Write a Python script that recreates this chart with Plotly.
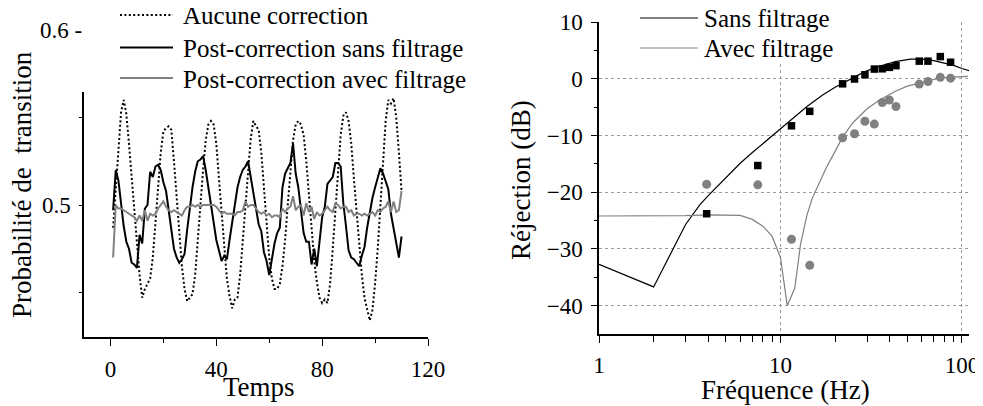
import plotly.graph_objects as go

# --- left panel: transition probability vs time ---
temps = list(range(1, 111))

aucune = [0.487, 0.510, 0.535, 0.553, 0.560, 0.552, 0.535, 0.515, 0.495, 0.475,
          0.460, 0.447, 0.452, 0.455, 0.458, 0.470, 0.490, 0.510, 0.530, 0.542,
          0.544, 0.545, 0.543, 0.525, 0.505, 0.485, 0.465, 0.452, 0.445, 0.447,
          0.449, 0.460, 0.478, 0.500, 0.520, 0.537, 0.546, 0.548, 0.546, 0.535,
          0.515, 0.495, 0.475, 0.458, 0.448, 0.441, 0.446, 0.447, 0.460, 0.480,
          0.500, 0.520, 0.538, 0.548, 0.545, 0.543, 0.530, 0.510, 0.490, 0.470,
          0.458, 0.452, 0.452, 0.455, 0.465, 0.480, 0.500, 0.520, 0.537, 0.546,
          0.548, 0.546, 0.540, 0.525, 0.505, 0.485, 0.468, 0.456, 0.447, 0.444,
          0.446, 0.444, 0.455, 0.475, 0.497, 0.520, 0.540, 0.551, 0.553, 0.548,
          0.535, 0.515, 0.495, 0.475, 0.460, 0.447, 0.440, 0.434, 0.440, 0.455,
          0.475, 0.500, 0.525, 0.548, 0.560, 0.558, 0.561, 0.550, 0.530, 0.508]

sans_filtrage = [0.497, 0.520, 0.514, 0.500, 0.488, 0.479, 0.475, 0.467, 0.466, 0.464,
                 0.483, 0.478, 0.498, 0.500, 0.519, 0.516, 0.522, 0.523, 0.520, 0.513,
                 0.508, 0.497, 0.487, 0.475, 0.470, 0.467, 0.469, 0.472, 0.486, 0.500,
                 0.510, 0.519, 0.525, 0.526, 0.528, 0.520, 0.510, 0.500, 0.488, 0.480,
                 0.474, 0.468, 0.471, 0.469, 0.480, 0.489, 0.500, 0.510, 0.516, 0.520,
                 0.522, 0.525, 0.516, 0.508, 0.500, 0.489, 0.485, 0.473, 0.468, 0.460,
                 0.469, 0.478, 0.484, 0.487, 0.510, 0.518, 0.521, 0.524, 0.535, 0.518,
                 0.510, 0.497, 0.484, 0.479, 0.479, 0.466, 0.475, 0.465, 0.481, 0.493,
                 0.499, 0.512, 0.514, 0.516, 0.524, 0.524, 0.522, 0.501, 0.488, 0.474,
                 0.470, 0.469, 0.467, 0.465, 0.471, 0.476, 0.487, 0.496, 0.504, 0.510,
                 0.516, 0.521, 0.518, 0.514, 0.509, 0.495, 0.486, 0.477, 0.470, 0.482]

avec_filtrage = [0.470, 0.500, 0.498, 0.498, 0.497, 0.496, 0.495, 0.494, 0.493, 0.491,
                 0.494, 0.491, 0.497, 0.491, 0.495, 0.494, 0.495, 0.498, 0.500, 0.502,
                 0.499, 0.497, 0.496, 0.497, 0.496, 0.495, 0.494, 0.497, 0.499, 0.499,
                 0.500, 0.499, 0.500, 0.499, 0.500, 0.500, 0.500, 0.500, 0.500, 0.499,
                 0.497, 0.495, 0.496, 0.495, 0.495, 0.495, 0.494, 0.496, 0.496, 0.497,
                 0.502, 0.499, 0.500, 0.500, 0.498, 0.496, 0.495, 0.496, 0.494, 0.495,
                 0.493, 0.494, 0.494, 0.493, 0.498, 0.496, 0.498, 0.499, 0.505, 0.497,
                 0.499, 0.500, 0.494, 0.501, 0.496, 0.499, 0.492, 0.496, 0.494, 0.495,
                 0.497, 0.499, 0.497, 0.496, 0.501, 0.500, 0.498, 0.499, 0.499, 0.496,
                 0.497, 0.494, 0.495, 0.495, 0.494, 0.495, 0.494, 0.495, 0.496, 0.494,
                 0.497, 0.496, 0.498, 0.499, 0.502, 0.496, 0.502, 0.496, 0.497, 0.508]

# --- right panel: rejection vs frequency ---
f_sans = [1, 2, 3, 3.6, 4, 5, 6, 7, 8, 9, 10, 12, 14, 17, 20, 22, 25, 29, 35, 43,
          52, 60, 70, 80, 90, 100, 110]
rej_sans = [-32.7, -36.7, -25.7, -22.2, -20.6, -17.4, -14.9, -13.0, -11.4, -10.0,
            -8.8, -6.7, -4.9, -2.9, -1.5, -0.8, 0.1, 1.2, 2.2, 3.0,
            3.45, 3.45, 3.2, 2.8, 2.35, 1.8, 1.4]

f_avec = [1, 2, 3, 4, 5, 6, 7, 8, 9, 10, 10.9, 12, 12.9, 14, 15, 16.5, 18, 20, 22,
          25, 30, 35, 43, 50, 58, 66, 75, 87, 100, 108]
rej_avec = [-24.2, -24.2, -24.15, -24.0, -24.0, -24.1, -24.8, -26.0, -27.8, -31.5,
            -40.0, -36.9, -29.2, -24.0, -21.0, -18.0, -15.5, -12.8, -10.3,
            -7.8, -5.3, -3.8, -2.2, -1.3, -0.75, -0.3, 0.1, 0.3, 0.4, 0.4]

f_mes = [3.92, 7.5, 11.5, 14.5, 22, 25.6, 29.2, 32.9, 36.4, 39.8, 43.3, 58.2, 65, 76, 86.6]
mes_sans = [-23.8, -15.3, -8.3, -5.75, -0.9, -0.05, 0.7, 1.7, 1.75, 2.0, 2.3,
            3.1, 3.1, 3.9, 2.9]
mes_avec = [-18.6, -18.7, -28.3, -32.9, -10.4, -9.7, -7.5, -8.0, -4.2, -3.75, -4.9,
            -0.95, -0.5, 0.25, 0.1]

legend_left = ['Aucune correction', 'Post-correction sans filtrage',
               'Post-correction avec filtrage']
legend_right = ['Sans filtrage', 'Avec filtrage']

# the page body has an 8px margin: the figure starts 8px in and runs to the window edge
OFF = 8
W, H = 983 - OFF, 406 - OFF


def px(x):
    return (x - OFF) / W


def py(y):
    return (H + OFF - y) / H


GRAY = '#808080'
FONT = 'Liberation Serif, Times New Roman, serif'
DOT = '2px,2.4px'

fig = go.Figure()

fig.add_trace(go.Scatter(x=temps, y=aucune, mode='lines', name=legend_left[0],
                         line=dict(color='black', width=2, dash=DOT),
                         xaxis='x', yaxis='y'))
fig.add_trace(go.Scatter(x=temps, y=sans_filtrage, mode='lines', name=legend_left[1],
                         line=dict(color='black', width=2),
                         xaxis='x', yaxis='y'))
fig.add_trace(go.Scatter(x=temps, y=avec_filtrage, mode='lines', name=legend_left[2],
                         line=dict(color=GRAY, width=2),
                         xaxis='x', yaxis='y'))

fig.add_trace(go.Scatter(x=f_sans, y=rej_sans, mode='lines', name=legend_right[0],
                         line=dict(color='black', width=1.2),
                         xaxis='x2', yaxis='y2'))
fig.add_trace(go.Scatter(x=f_avec, y=rej_avec, mode='lines', name=legend_right[1],
                         line=dict(color=GRAY, width=1.2),
                         xaxis='x2', yaxis='y2'))
fig.add_trace(go.Scatter(x=f_mes, y=mes_sans, mode='markers',
                         marker=dict(symbol='square', size=7.5, color='black'),
                         xaxis='x2', yaxis='y2'))
fig.add_trace(go.Scatter(x=f_mes, y=mes_avec, mode='markers',
                         marker=dict(symbol='circle', size=9, color=GRAY),
                         xaxis='x2', yaxis='y2'))

fig.update_layout(
    width=W, height=H, autosize=False,
    margin=dict(l=0, r=0, t=0, b=0, pad=0, autoexpand=False),
    paper_bgcolor='white', plot_bgcolor='white',
    font=dict(family=FONT, color='black'),
    showlegend=False,
    xaxis=dict(domain=[px(84), px(428)], anchor='y', range=[-10, 120],
               tickvals=[0, 40, 80, 120], ticks='outside', ticklen=7,
               tickwidth=1.3, tickcolor='black',
               minor=dict(tickvals=[20, 60, 100], ticks='outside', ticklen=4,
                          tickcolor='black', showgrid=False),
               showline=True, linecolor='black', linewidth=1.5,
               showgrid=False, zeroline=False, automargin=False,
               tickfont=dict(family=FONT, size=23, color='black'),
               ticklabelstandoff=4),
    yaxis=dict(domain=[py(337), py(92)], anchor='x', range=[0.42457, 0.56457],
               tickvals=[0.45, 0.5, 0.55], ticktext=['', '0.5', ''],
               ticks='outside', ticklen=3, tickcolor='black',
               showline=True, linecolor='black', linewidth=1.5,
               showgrid=False, zeroline=False, automargin=False,
               tickfont=dict(family=FONT, size=23, color='black'),
               ticklabelstandoff=4),
    xaxis2=dict(domain=[px(599), px(969)], anchor='y2', type='log', range=[0, 2.039],
                tickvals=[1, 10, 100], ticktext=['1', '10', '100'],
                ticks='outside', ticklen=7, tickcolor='black',
                minor=dict(tickvals=[2, 3, 4, 5, 6, 7, 8, 9, 20, 30, 40, 50, 60, 70, 80, 90],
                           ticks='outside', ticklen=6, tickcolor='black', showgrid=False),
                showline=True, linecolor='black', linewidth=1.5,
                showgrid=True, gridcolor='#9a9a9a', griddash='dot', gridwidth=1,
                zeroline=False, automargin=False,
                tickfont=dict(family=FONT, size=23, color='black'),
                ticklabelstandoff=3),
    yaxis2=dict(domain=[py(334), py(22)], anchor='x2', range=[-45, 10],
                tickvals=[-40, -30, -20, -10, 0, 10],
                ticks='outside', ticklen=6, tickcolor='black',
                minor=dict(tickvals=[-35, -25, -15, -5, 5], ticks='outside', ticklen=3,
                           tickcolor='black', showgrid=False),
                showline=True, linecolor='black', linewidth=1.5,
                showgrid=True, gridcolor='#9a9a9a', griddash='dot', gridwidth=1,
                zeroline=False, automargin=False,
                tickfont=dict(family=FONT, size=23, color='black'),
                ticklabelstandoff=4),
)

shapes = []
annots = []

# legend of the left panel (drawn by hand to match row spacing)
left_rows = [15, 47.5, 78]
left_styles = [dict(color='black', width=2, dash=DOT), dict(color='black', width=2),
               dict(color=GRAY, width=2)]
for name, yy, st in zip(legend_left, left_rows, left_styles):
    shapes.append(dict(type='line', xref='paper', yref='paper', x0=px(120), x1=px(173),
                       y0=py(yy), y1=py(yy), line=st))
    annots.append(dict(text=name, x=px(181), y=py(yy + 1), xref='paper', yref='paper',
                       xanchor='left', yanchor='middle', font=dict(family=FONT, size=25)))

# legend of the right panel, on a white box that hides the grid behind it
shapes.append(dict(type='rect', xref='paper', yref='paper', x0=px(634), x1=px(845),
                   y0=py(63), y1=py(20), fillcolor='white', line=dict(width=0),
                   layer='above'))
right_rows = [18, 48]
right_styles = [dict(color='black', width=1.2), dict(color=GRAY, width=1.2)]
for name, yy, st in zip(legend_right, right_rows, right_styles):
    shapes.append(dict(type='line', xref='paper', yref='paper', x0=px(640), x1=px(698),
                       y0=py(yy), y1=py(yy), line=st, layer='above'))
    annots.append(dict(text=name, x=px(702), y=py(yy + 1), xref='paper', yref='paper',
                       xanchor='left', yanchor='middle', font=dict(family=FONT, size=25)))

annots += [
    dict(text='0.6 -', x=px(84), y=py(31), xref='paper', yref='paper',
         xanchor='right', yanchor='middle', font=dict(family=FONT, size=23)),
    dict(text='Probabilité de\u00a0 transition', x=px(22), y=py(185),
         xref='paper', yref='paper', textangle=-90, xanchor='center', yanchor='middle',
         font=dict(family=FONT, size=27)),
    dict(text='Temps', x=px(259), y=py(387), xref='paper', yref='paper',
         xanchor='center', yanchor='middle', font=dict(family=FONT, size=27)),
    dict(text='Réjection (dB)', x=px(521), y=py(180), xref='paper', yref='paper',
         textangle=-90, xanchor='center', yanchor='middle', font=dict(family=FONT, size=27)),
    dict(text='Fréquence (Hz)', x=px(785), y=py(390), xref='paper', yref='paper',
         xanchor='center', yanchor='middle', font=dict(family=FONT, size=27)),
]
for a in annots:
    a['showarrow'] = False
fig.update_layout(annotations=annots, shapes=shapes)

fig.write_html("out.html")
